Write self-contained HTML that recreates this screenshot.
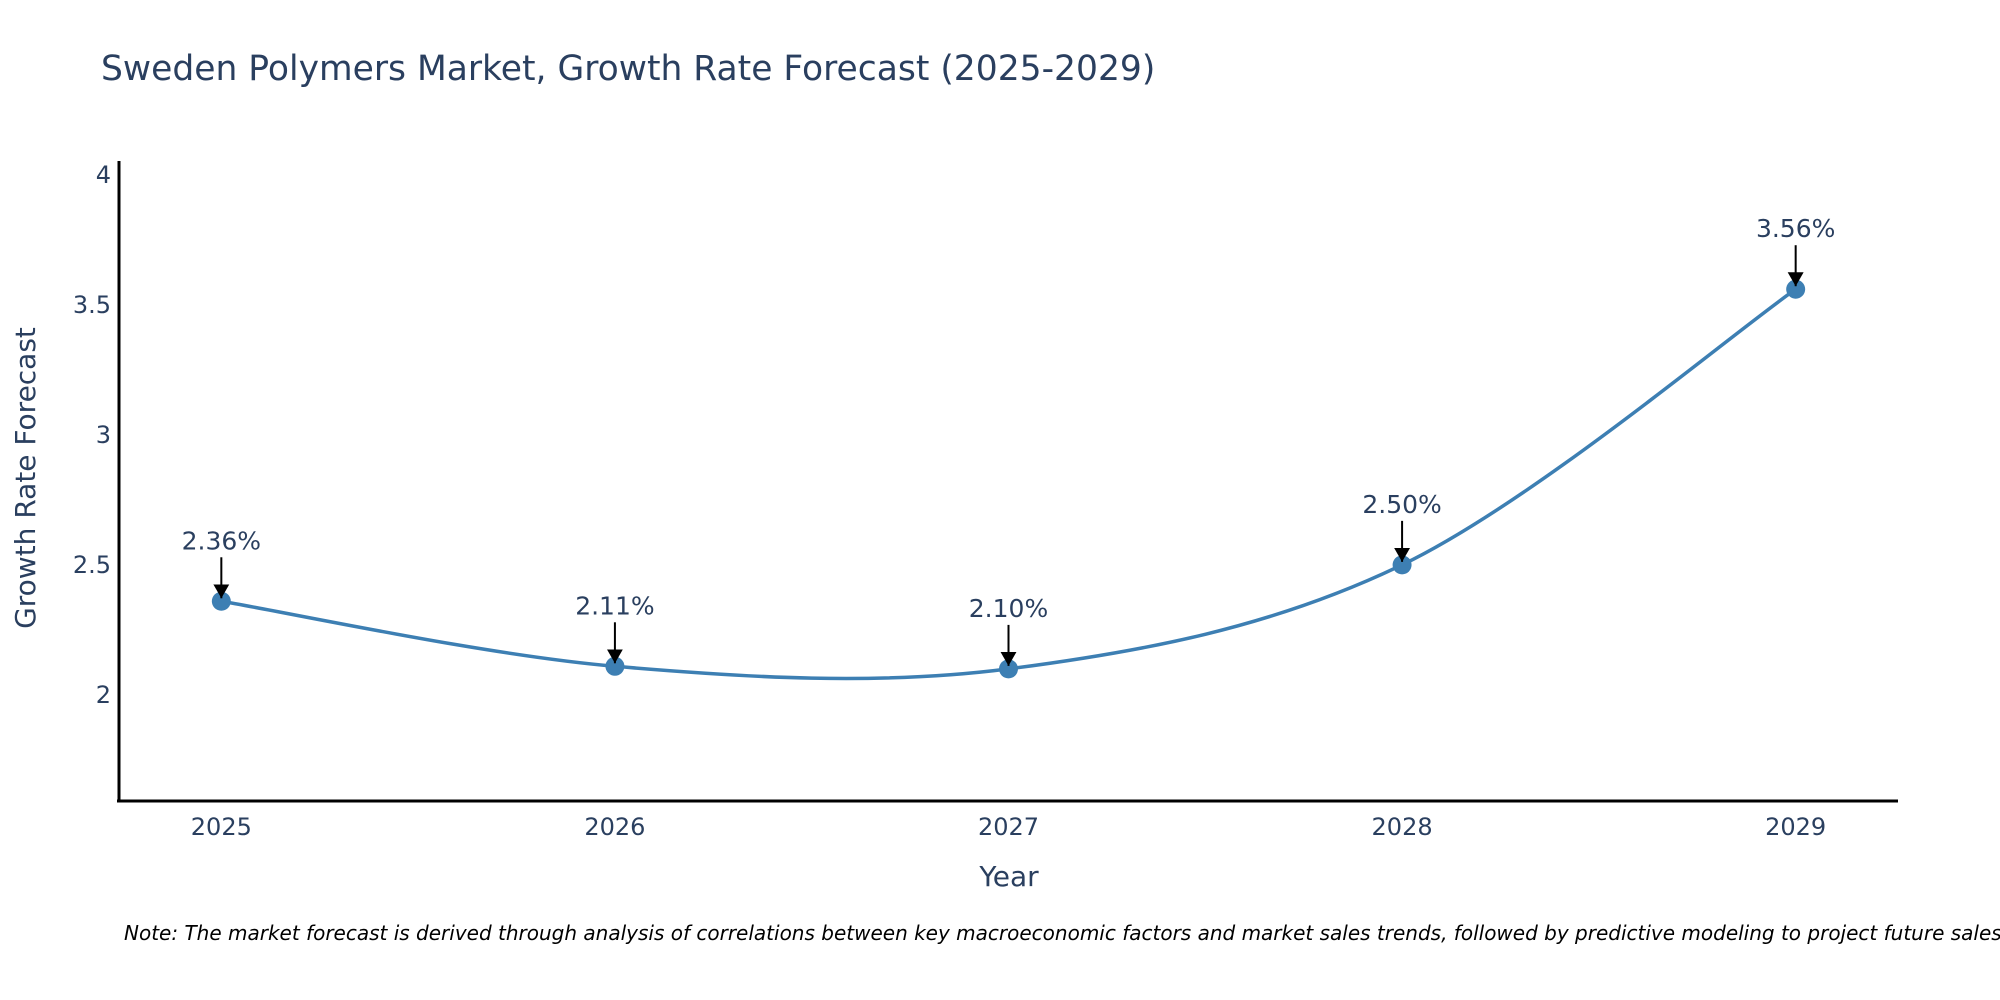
<!DOCTYPE html>
<html><head><meta charset="utf-8"><style>
html,body{margin:0;padding:0;background:#fff;}
svg{display:block;font-family:"DejaVu Sans","Liberation Sans",sans-serif;}
</style></head><body>
<svg id="chart" width="2000" height="1000" viewBox="0 0 2000 1000" xmlns="http://www.w3.org/2000/svg">
<defs><marker id="ah" markerUnits="userSpaceOnUse" markerWidth="16" markerHeight="16" refX="14" refY="8" orient="auto"><path d="M0,0 L14,8 L0,16 z" fill="#000"/></marker></defs>
<text x="101" y="80" font-size="34.5" fill="#2a3f5f">Sweden Polymers Market, Growth Rate Forecast (2025-2029)</text>
<line x1="119" y1="161" x2="119" y2="802" stroke="#000" stroke-width="3"/>
<line x1="117" y1="801" x2="1898" y2="801" stroke="#000" stroke-width="3"/>
<g id="yticks"></g><g id="xticks"></g>
<path id="line" fill="none" stroke="#3d7fb3" stroke-width="3.5"/>
<g id="points"></g><g id="annots"></g>
<text x="1009" y="886" font-size="28" fill="#2a3f5f" text-anchor="middle">Year</text>
<text x="0" y="0" font-size="28" fill="#2a3f5f" text-anchor="middle" transform="translate(35,478) rotate(-90)">Growth Rate Forecast</text>
<text x="124" y="940" font-size="20" font-style="italic" fill="#000">Note: The market forecast is derived through analysis of correlations between key macroeconomic factors and market sales trends, followed by predictive modeling to project future sales.</text>
</svg>
<script>
const years = [2025, 2026, 2027, 2028, 2029];
const values = [2.36, 2.11, 2.10, 2.50, 3.56];
const labels = ["2.36%", "2.11%", "2.10%", "2.50%", "3.56%"];
const yTickValues = [2, 2.5, 3, 3.5, 4];
const yTickLabels = ["2", "2.5", "3", "3.5", "4"];

const NS = "http://www.w3.org/2000/svg";
const X0 = 119, X1 = 1898, XMIN = 2024.74, XMAX = 2029.26;
const Y0 = 801, Y1 = 161, YMIN = 1.592, YMAX = 4.053;
function xs(v){ return X0 + (v - XMIN) / (XMAX - XMIN) * (X1 - X0); }
function ys(v){ return Y0 - (v - YMIN) / (YMAX - YMIN) * (Y0 - Y1); }
function mk(tag, attrs, parent){ const e = document.createElementNS(NS, tag); for (const k in attrs) e.setAttribute(k, attrs[k]); parent.appendChild(e); return e; }

const yt = document.getElementById('yticks');
yTickValues.forEach((v, i) => {
  const t = mk('text', {x: 111, y: ys(v) + 8, 'font-size': 24, fill: '#2a3f5f', 'text-anchor': 'end'}, yt);
  
  
  t.textContent = yTickLabels[i];
});
const xt = document.getElementById('xticks');
years.forEach(v => {
  const t = mk('text', {x: xs(v), y: 835, 'font-size': 24, fill: '#2a3f5f', 'text-anchor': 'middle'}, xt);
  
  
  t.textContent = String(v);
});

const pts = years.map((y, i) => [xs(y), ys(values[i])]);
let d = 'M' + pts[0][0] + ',' + pts[0][1];
for (let i = 0; i < pts.length - 1; i++) {
  const p0 = pts[Math.max(0, i - 1)], p1 = pts[i], p2 = pts[i + 1], p3 = pts[Math.min(pts.length - 1, i + 2)];
  const c1 = [p1[0] + (p2[0] - p0[0]) / 6, p1[1] + (p2[1] - p0[1]) / 6];
  const c2 = [p2[0] - (p3[0] - p1[0]) / 6, p2[1] - (p3[1] - p1[1]) / 6];
  d += ' C' + c1[0] + ',' + c1[1] + ' ' + c2[0] + ',' + c2[1] + ' ' + p2[0] + ',' + p2[1];
}
document.getElementById('line').setAttribute('d', d);

const pg = document.getElementById('points');
const ag = document.getElementById('annots');
pts.forEach((p, i) => {
  const c = mk('circle', {cx: p[0], cy: p[1], r: 9.5, fill: '#3d7fb3'}, pg);
  
  
  const a = mk('line', {x1: p[0], y1: p[1] - 44, x2: p[0], y2: p[1] - 3, stroke: '#000', 'stroke-width': 2, 'marker-end': 'url(#ah)'}, ag);
  
  
  const t = mk('text', {x: p[0], y: p[1] - 52, 'font-size': 25, fill: '#2a3f5f', 'text-anchor': 'middle'}, ag);
  
  
  t.textContent = labels[i];
});
</script>
</body></html>
